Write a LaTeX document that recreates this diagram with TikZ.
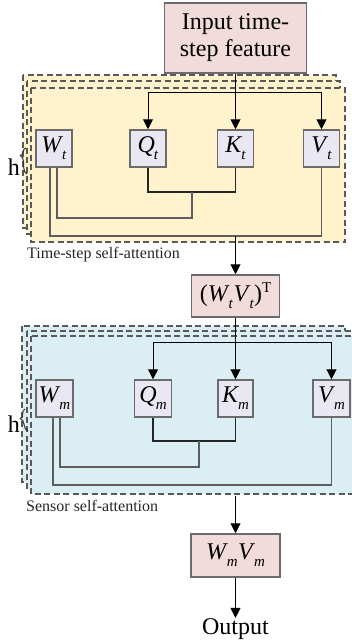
\documentclass[tikz,border=0pt]{standalone}
\usepackage{fontspec}
\setmainfont{Liberation Serif}
\usetikzlibrary{arrows.meta,decorations.pathreplacing,calc}
\definecolor{yfill}{HTML}{FFF2CC}
\definecolor{bfill}{HTML}{DAEEF3}
\definecolor{pfill}{HTML}{F2DCDB}
\definecolor{nfill}{HTML}{E9E7F1}
\definecolor{bord}{HTML}{6B6B6B}
\definecolor{dashc}{HTML}{595959}
\definecolor{gline}{HTML}{5E5E5E}
\newcommand{\sbs}[2]{\textit{#1}\kern-1pt\raisebox{-7pt}{\fontsize{15}{15}\selectfont\textit{#2}}}
\tikzset{
  big/.style={font=\fontsize{24}{27}\selectfont},
  pinkbox/.style={draw=bord, line width=1.5pt, fill=pfill, inner sep=0pt, big, align=center},
  qbox/.style={draw=bord, line width=1.5pt, fill=nfill, inner sep=0pt, minimum width=36pt, minimum height=37pt, big},
  arr/.style={line width=1pt, -{Triangle[width=10pt,length=10pt]}},
  blk/.style={line width=1.1pt, draw=black!85},
  gry/.style={line width=1.6pt, draw=gline},
  dbox/.style={draw=dashc, line width=1.3pt, dash pattern=on 6pt off 3.5pt},
  lbl/.style={font=\fontsize{16}{16}\selectfont, anchor=west, inner sep=0pt, text=black!85},
  hlbl/.style={font=\fontsize{24}{24}\selectfont, anchor=base, inner sep=0pt},
  brc/.style={decorate, decoration={brace, amplitude=6pt}, line width=1pt, draw=black!80}
}
\begin{document}
\begin{tikzpicture}[x=1pt,y=-1pt]
\useasboundingbox (0,0) rectangle (351,642);
% yellow stack
\draw[dbox, fill=yfill] (23,75) rectangle (336,228);
\draw[dbox, fill=yfill] (27,81) rectangle (340,234);
\draw[dbox, fill=yfill] (31,88) rectangle (345,242);
% blue stack
\draw[dbox, fill=bfill] (22,326) rectangle (345,482);
\draw[dbox, fill=bfill] (27,331) rectangle (350,488);
\draw[dbox, fill=bfill] (31,336) rectangle (356,494);

% nodes
\node[pinkbox, minimum width=142pt, minimum height=70pt] (in) at (235.5,38) {Input time-\\step feature};
\node[qbox] (Wt) at (54,148.5) {\sbs{W}{t}};
\node[qbox] (Qt) at (148,148.5) {\sbs{Q}{t}};
\node[qbox] (Kt) at (235.5,148.5) {\sbs{K}{t}};
\node[qbox] (Vt) at (321.5,148.5) {\sbs{V}{t}};
\node[pinkbox, minimum width=88pt, minimum height=42pt] (wv) at (235.5,296) {(\sbs{W}{t}\kern0.5pt\sbs{V}{t})\raisebox{9pt}{\fontsize{15}{15}\selectfont T}};
\node[qbox, minimum width=37pt] (Wm) at (54.5,398.5) {\sbs{W}{m}};
\node[qbox, minimum width=37pt] (Qm) at (153,398.5) {\sbs{Q}{m}};
\node[qbox, minimum width=35pt] (Km) at (235.5,398.5) {\sbs{K}{m}};
\node[qbox, minimum width=37pt] (Vm) at (331.5,398.5) {\sbs{V}{m}};
\node[pinkbox, minimum width=89pt, minimum height=43pt] (wm) at (235.5,555.5) {\sbs{W}{m}\kern0.5pt\sbs{V}{m}};
\node[hlbl] (out) at (235.5,634) {Output};

% labels
\node[lbl] (lt) at (27,255) {Time-step self-attention};
\node[lbl] (ls) at (26,506) {Sensor self-attention};
\node[hlbl] (h1) at (14,175) {h};
\node[hlbl] (h2) at (14,432) {h};
\coordinate (b1a) at (27,174);
\coordinate (b1b) at (26,148);
\coordinate (b2a) at (28,431);
\coordinate (b2b) at (25,409);
\draw[brc, decoration={aspect=0.72}] (b1a) -- (b1b);
\draw[brc, decoration={aspect=0.6}] (b2a) -- (b2b);

% time-step connectors
\coordinate (jt) at (235.5,92);
\draw[arr] (in.south) -- (Kt.north);
\draw[arr] (jt) -| (Qt.north);
\draw[arr] (jt) -| (Vt.north);
\coordinate (qkt) at (192,192);
\draw[blk] (Qt.south) |- (qkt) -| (Kt.south);
\draw[gry] (qkt) |- ($(Wt.south)+(3,217-167)$) -- ($(Wt.south)+(3,0)$);
\coordinate (wvt) at (235.5,236);
\draw[gry] ($(Wt.south)+(-4,0)$) |- (wvt) -| (Vt.south);
\draw[arr] (wvt) -- (wv.north);

% sensor connectors
\coordinate (jm) at (235.5,342);
\draw[arr] (wv.south) -- (Km.north);
\draw[arr] (jm) -| (Qm.north);
\draw[arr] (jm) -| (Vm.north);
\coordinate (qkm) at (199,441);
\draw[blk] (Qm.south) |- (qkm) -| (Km.south);
\draw[gry] (qkm) |- ($(Wm.south)+(5.5,466-417)$) -- ($(Wm.south)+(5.5,0)$);
\coordinate (wvm) at (235.5,485);
\draw[gry] ($(Wm.south)+(-1.5,0)$) |- (wvm) -| (Vm.south);
\coordinate (sm) at (235.5,496);
\draw[arr] (sm) -- (wm.north);
\draw[arr] (wm.south) -- (out.north);
\end{tikzpicture}
\end{document}
